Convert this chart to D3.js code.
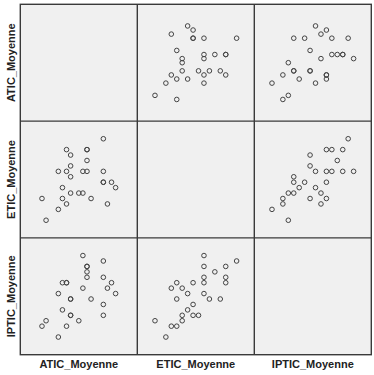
<!DOCTYPE html>
<html>
<head>
<meta charset="utf-8">
<script src="https://cdn.jsdelivr.net/npm/d3@7"></script>
<style>
  body { margin: 0; background: #fff; }
  svg { display: block; }
</style>
</head>
<body>
<svg id="chart" width="374" height="375"></svg>
<script>
// variable names (rows / columns of the matrix)
const variables = ["ATIC_Moyenne", "ETIC_Moyenne", "IPTIC_Moyenne"];

// one value per respondent (score levels)
const atic  = [0, 1, 4, 4, 5, 5, 6, 6, 6, 7, 7, 7, 7, 9, 10, 10, 11, 11, 11, 11, 12, 15, 15, 15, 15, 16, 17, 18];
const etic  = [4, 0, 2, 9, 4, 6, 3, 9, 13, 5, 8, 10, 12, 5, 5, 9, 9, 11, 13, 13, 4, 7, 7, 9, 15, 3, 7, 6];
const iptic = [2, 3, 0, 8, 10, 5, 2, 10, 10, 4, 4, 7, 7, 3, 9, 15, 13, 12, 11, 13, 7, 4, 6, 11, 14, 9, 10, 8];

// axis domains (padding around the data as in the picture)
const domains = {
    "ATIC_Moyenne": [-5.3, 23.3],
    "ETIC_Moyenne": [-3.25, 18.25],
    "IPTIC_Moyenne": [-3.25, 18.25]
};

const columns = { "ATIC_Moyenne": atic, "ETIC_Moyenne": etic, "IPTIC_Moyenne": iptic };

const svg = d3.select("#chart");

const margin = { top: 4.3, left: 20.3, right: 2.7, bottom: 20.3 };
const width = 374 - margin.left - margin.right;
const height = 375 - margin.top - margin.bottom;
const cellW = width / variables.length;
const cellH = height / variables.length;

const g = svg.append("g")
    .attr("transform", `translate(${margin.left},${margin.top})`);

const cells = g.selectAll("g.cell")
    .data(d3.cross(variables, variables)) // [rowVar, colVar]
    .join("g")
    .attr("class", "cell")
    .attr("transform", (d, i) => `translate(${(i % 3) * cellW},${Math.floor(i / 3) * cellH})`);

cells.append("rect")
    .attr("width", cellW)
    .attr("height", cellH)
    .attr("fill", "#f0f0f0");

cells.each(function (d) {
    const rowVar = d[0], colVar = d[1];
    if (rowVar === colVar) return;
    const cell = d3.select(this);

    const x = d3.scaleLinear().domain(domains[colVar]).range([0, cellW]);
    const y = d3.scaleLinear().domain(domains[rowVar]).range([cellH, 0]);

    const xs = columns[colVar];
    const ys = columns[rowVar];

    cell.selectAll("circle")
        .data(d3.range(xs.length))
        .join("circle")
        .attr("cx", i => x(xs[i]))
        .attr("cy", i => y(ys[i]))
        .attr("r", 2.3)
        .attr("fill", "none")
        .attr("stroke", "#444")
        .attr("stroke-width", 1);
});

// grid frame
const frame = g.append("g")
    .attr("stroke", "#3a3a3a")
    .attr("stroke-width", 1.4)
    .attr("fill", "none");

frame.append("rect").attr("width", width).attr("height", height);
frame.selectAll("line.v")
    .data([1, 2])
    .join("line")
    .attr("x1", k => k * cellW).attr("x2", k => k * cellW)
    .attr("y1", 0).attr("y2", height);
frame.selectAll("line.h")
    .data([1, 2])
    .join("line")
    .attr("class", "h")
    .attr("y1", k => k * cellH).attr("y2", k => k * cellH)
    .attr("x1", 0).attr("x2", width);

// labels
const labelStyle = sel => sel
    .attr("font-family", "'Liberation Sans', Arial, sans-serif")
    .attr("font-weight", "bold")
    .attr("font-size", 11)
    .attr("fill", "#222")
    .attr("text-anchor", "middle")
    .attr("dominant-baseline", "central");

svg.selectAll("text.xlab")
    .data(variables)
    .join("text")
    .attr("class", "xlab")
    .attr("x", (d, i) => margin.left + (i + 0.5) * cellW)
    .attr("y", margin.top + height + 9.5)
    .text(d => d)
    .call(labelStyle);

svg.selectAll("text.ylab")
    .data(variables)
    .join("text")
    .attr("class", "ylab")
    .attr("transform", (d, i) => `translate(11,${margin.top + (i + 0.5) * cellH}) rotate(-90)`)
    .text(d => d)
    .call(labelStyle);
</script>
</body>
</html>
